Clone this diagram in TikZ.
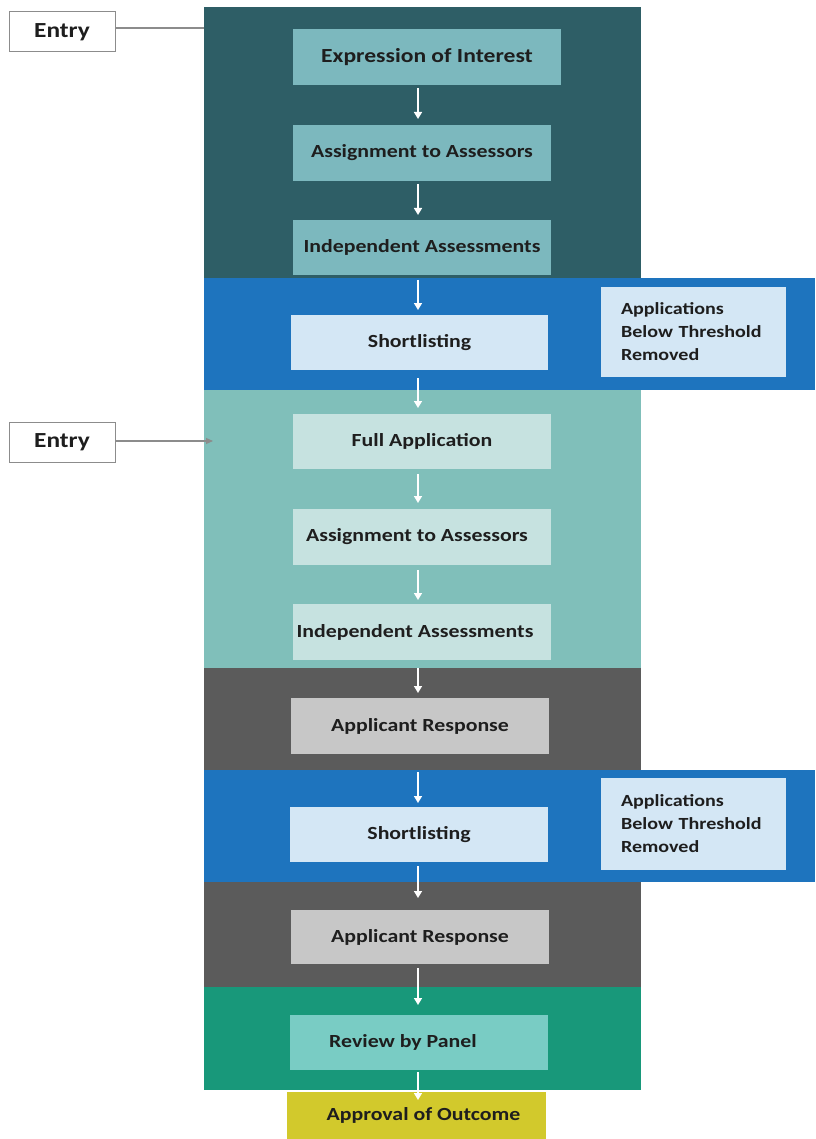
\documentclass[tikz,border=0pt]{standalone}
\usepackage{fontspec}
\setmainfont{Carlito}[FakeStretch=1.18]
\usetikzlibrary{arrows.meta,calc}
\definecolor{tealdark}{HTML}{2E5E66}
\definecolor{tealbox}{HTML}{7CB8BE}
\definecolor{blueband}{HTML}{1E74BE}
\definecolor{bluebox}{HTML}{D4E7F5}
\definecolor{teallight}{HTML}{80BFBA}
\definecolor{tealpale}{HTML}{C6E2E0}
\definecolor{grayband}{HTML}{5B5B5B}
\definecolor{graybox}{HTML}{C7C7C7}
\definecolor{greenband}{HTML}{18987A}
\definecolor{reviewbox}{HTML}{79CCC4}
\definecolor{yellowbox}{HTML}{D2C92C}
\definecolor{txt}{HTML}{1E1E1E}
\definecolor{entrygray}{HTML}{8C8C8C}
\begin{document}
\begin{tikzpicture}[x=1pt,y=-1pt,
  band/.style={draw=none,inner sep=0pt,outer sep=0pt},
  stage/.style={draw=none,inner sep=0pt,outer sep=0pt,minimum width=258pt,minimum height=56pt,
    font=\fontsize{18.5}{22}\selectfont\bfseries,text=txt},
  note/.style={draw=none,fill=bluebox,outer sep=0pt,align=left,text width=145pt,inner xsep=20pt,inner ysep=0pt,
    font=\fontsize{17}{23}\selectfont\bfseries,text=txt},
  entrybox/.style={draw=entrygray,line width=1pt,fill=white,inner sep=0pt,minimum width=106pt,minimum height=40pt,
    font=\fontsize{21.5}{24}\selectfont\bfseries,text=txt},
  entryline/.style={draw=entrygray,line width=1.2pt},
  flow/.style={draw=white,line width=1.6pt,-{Triangle[length=7pt,width=8pt]}},
]
\useasboundingbox (0,0) rectangle (815,1139);
\fill[white] (0,0) rectangle (815,1139);
% bands
\node[band,fill=tealdark,minimum width=437pt,minimum height=271pt] (band1) at (422.5,142.5) {};
\node[band,fill=blueband,minimum width=611pt,minimum height=112pt] (band2) at (509.5,334) {};
\node[band,fill=teallight,minimum width=437pt,minimum height=278pt] (band3) at (422.5,529) {};
\node[band,fill=grayband,minimum width=437pt,minimum height=102pt] (band4) at (422.5,719) {};
\node[band,fill=blueband,minimum width=611pt,minimum height=112pt] (band5) at (509.5,826) {};
\node[band,fill=grayband,minimum width=437pt,minimum height=105pt] (band6) at (422.5,934.5) {};
\node[band,fill=greenband,minimum width=437pt,minimum height=103pt] (band7) at (422.5,1038.5) {};
% stages
\node[stage,fill=tealbox,minimum width=268pt,font=\fontsize{20}{22}\selectfont\bfseries] (eoi) at (427,57) {Expression of Interest};
\node[stage,fill=tealbox] (aa1) at (422,153) {Assignment to Assessors};
\node[stage,fill=tealbox,minimum height=55pt] (ia1) at (422,247.5) {Independent Assessments};
\node[stage,fill=bluebox,minimum height=55pt,minimum width=257pt] (sl1) at (419.5,342.5) {Shortlisting};
\node[note,minimum height=90pt] (side1) at (693.5,332) {Applications\\Below Threshold\\Removed};
\node[stage,fill=tealpale,minimum height=55pt] (fa) at (422,441.5) {Full Application};
\node[stage,fill=tealpale] (aa2) at (422,537) {\hspace*{-10pt}Assignment to Assessors};
\node[stage,fill=tealpale] (ia2) at (422,632) {\hspace*{-14pt}Independent Assessments};
\node[stage,fill=graybox] (ar1) at (420,726) {Applicant Response};
\node[stage,fill=bluebox,minimum height=55pt] (sl2) at (419,834.5) {Shortlisting};
\node[note,minimum height=92pt] (side2) at (693.5,824) {Applications\\Below Threshold\\Removed};
\node[stage,fill=graybox,minimum height=54pt] (ar2) at (420,937) {Applicant Response};
\node[stage,fill=reviewbox,minimum height=55pt] (rp) at (419,1042.5) {\hspace*{-32pt}Review by Panel};
\node[stage,fill=yellowbox,minimum width=259pt,minimum height=47pt] (ao) at (416.5,1115.5) {\hspace*{14pt}Approval of Outcome};
% entries
\node[entrybox] (entry1) at (62,32) {Entry};
\node[entrybox] (entry2) at (62,442.5) {Entry};
\coordinate (e1start) at ($(entry1.east)+(0,-4)$);
\draw[entryline] (e1start) -- (e1start -| band1.west);
\coordinate (e2end) at (213,441);
\draw[entryline,-{Triangle[length=7pt,width=6pt]}] (entry2.east |- e2end) -- (e2end);
% flow arrows
\coordinate (axis) at (418,0);
\draw[flow] ($(eoi.south -| axis)+(0,3)$) -- ($(aa1.north -| axis)+(0,-6)$);
\draw[flow] ($(aa1.south -| axis)+(0,3)$) -- ($(ia1.north -| axis)+(0,-5)$);
\draw[flow] ($(ia1.south -| axis)+(0,5)$) -- ($(sl1.north -| axis)+(0,-5)$);
\draw[flow] ($(sl1.south -| axis)+(0,8)$) -- ($(fa.north -| axis)+(0,-6)$);
\draw[flow] ($(fa.south -| axis)+(0,5)$) -- ($(aa2.north -| axis)+(0,-6)$);
\draw[flow] ($(aa2.south -| axis)+(0,5)$) -- ($(ia2.north -| axis)+(0,-4)$);
\draw[flow] ($(ia2.south -| axis)+(0,8)$) -- ($(ar1.north -| axis)+(0,-5)$);
\draw[flow] ($(ar1.south -| axis)+(0,18)$) -- ($(sl2.north -| axis)+(0,-4)$);
\draw[flow] ($(sl2.south -| axis)+(0,4)$) -- ($(ar2.north -| axis)+(0,-12)$);
\draw[flow] ($(ar2.south -| axis)+(0,4)$) -- ($(rp.north -| axis)+(0,-10)$);
\draw[flow] ($(rp.south -| axis)+(0,2)$) -- ($(ao.north -| axis)+(0,8)$);
\end{tikzpicture}
\end{document}
